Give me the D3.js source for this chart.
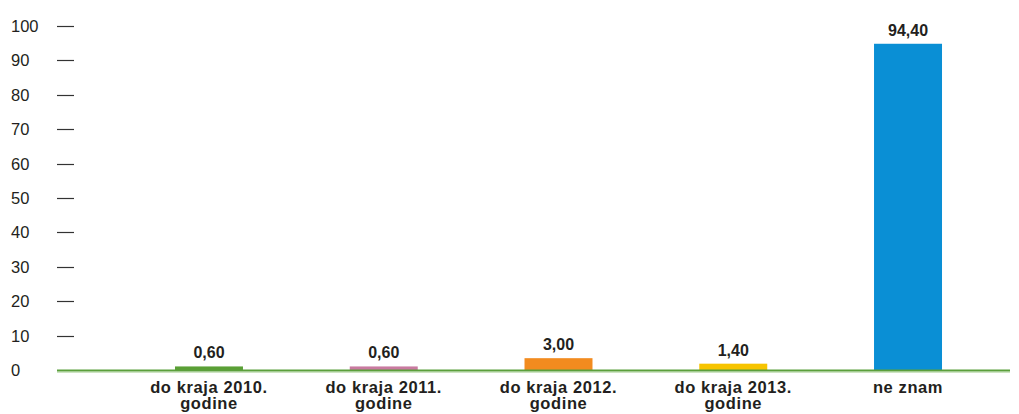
<!DOCTYPE html>
<html><head><meta charset="utf-8">
<script src="https://cdn.jsdelivr.net/npm/d3@7"></script>
<style>body{margin:0;background:#fff}svg{display:block}</style>
</head><body><svg id="c" width="1019" height="414"></svg>
<script>
const categories = [["do kraja 2010.","godine"],["do kraja 2011.","godine"],["do kraja 2012.","godine"],["do kraja 2013.","godine"],["ne znam"]];
const values = [0.6, 0.6, 3.0, 1.4, 94.4];
const valueLabels = ["0,60","0,60","3,00","1,40","94,40"];
const colors = ["#5a9f35","#c97aa0","#f28b1f","#f7c400","#0a8fd5"];
const yTicks = [0,10,20,30,40,50,60,70,80,90,100];

const svg = d3.select("#c");
const font = "'Liberation Sans', Arial, Helvetica, sans-serif";
const x = d3.scaleBand().domain(d3.range(values.length)).range([121.6, 995.4]).paddingInner(0.611).paddingOuter(0.3055);
const y = d3.scaleLinear().domain([0,100]).range([371,27]);

// y tick labels and dashes
const yg = svg.append("g");
yg.selectAll("text").data(yTicks).join("text")
  .attr("x", 11).attr("y", d => y(d)-1).attr("dy","0.36em")
  .attr("font-family", font).attr("font-size", 16.5).attr("fill","#231f20")
  .text(d => d);
yg.selectAll("line").data(yTicks.filter(d => d>0)).join("line")
  .attr("x1", 57).attr("x2", 74).attr("y1", d => Math.round(y(d))-0.5).attr("y2", d => Math.round(y(d))-0.5)
  .attr("stroke","#333").attr("stroke-width",1.2);

// bars
svg.append("g").selectAll("rect").data(values).join("rect")
  .attr("x",(d,i)=>x(i)).attr("width",x.bandwidth())
  .attr("y",d=>y(d)-2.5).attr("height",d=>y(0)-y(d)+2.5)
  .attr("fill",(d,i)=>colors[i]);

// baseline
svg.append("line").attr("x1",57).attr("x2",1010).attr("y1",y(0)-0.5).attr("y2",y(0)-0.5)
  .attr("stroke","#5b9f3c").attr("stroke-width",2);
svg.append("line").attr("x1",57).attr("x2",1010).attr("y1",y(0)+1).attr("y2",y(0)+1)
  .attr("stroke","#9cc987").attr("stroke-width",1);

// value labels
svg.append("g").selectAll("text").data(values).join("text")
  .attr("x",(d,i)=>x(i)+x.bandwidth()/2).attr("y",d=>y(d)-10.5)
  .attr("text-anchor","middle").attr("font-family",font).attr("font-weight","bold")
  .attr("font-size",16).attr("fill","#231f20")
  .text((d,i)=>valueLabels[i]);

// category labels
const cg = svg.append("g").selectAll("text").data(categories).join("text")
  .attr("x",(d,i)=>x(i)+x.bandwidth()/2).attr("y",392.5)
  .attr("text-anchor","middle").attr("font-family",font).attr("font-weight","bold")
  .attr("font-size",16.5).attr("letter-spacing","0.6px").attr("fill","#231f20");
cg.selectAll("tspan").data(d=>d).join("tspan")
  .attr("x",function(){return this.parentNode.getAttribute("x");})
  .attr("dy",(d,j)=>j===0?0:16.5).text(d=>d);
</script></body></html>
